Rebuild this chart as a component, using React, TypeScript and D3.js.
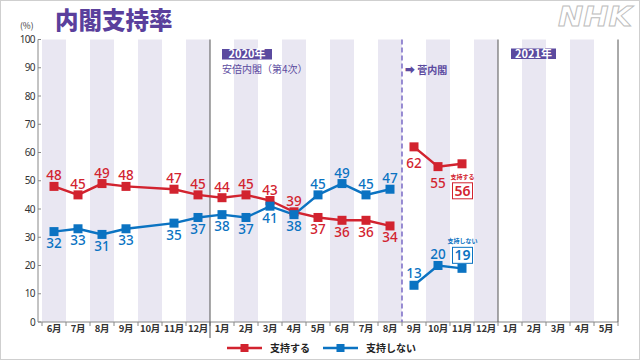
import React from "react";
import * as d3 from "d3";

// ---- data ----
const months = ["6月","7月","8月","9月","10月","11月","12月","1月","2月","3月","4月","5月","6月","7月","8月","9月","10月","11月","12月","1月","2月","3月","4月","5月"];
// cabinet: 0 = 安倍内閣, 1 = 菅内閣, -1 = none
const cabinet = [0,0,0,0,0,0,0,0,0,0,0,0,0,0,0,1,1,1,-1,-1,-1,-1,-1,-1];
const support: (number | null)[] = [48,45,49,48,null,47,45,44,45,43,39,37,36,36,34,62,55,56,null,null,null,null,null,null];
const oppose: (number | null)[] = [32,33,31,33,null,35,37,38,37,41,38,45,49,45,47,13,20,19,null,null,null,null,null,null];
const yTicks = [0,10,20,30,40,50,60,70,80,90,100];
const seriesNames = ["支持する", "支持しない"];

const W = 640, H = 360;
const RED = "#d2232f";
const BLUE = "#0b73c2";
const PURPLE = "#5a3f9c";
const BAND = "#e9e7f2";
const JP = "'Noto Sans CJK JP', 'Noto Sans', sans-serif";
const NUM = "'Noto Sans', 'DejaVu Sans', sans-serif";

const x = d3.scaleBand<number>().domain(d3.range(months.length)).range([42, 618]).padding(0);
const y = d3.scaleLinear().domain([0, 100]).range([322, 39.5]);
const cx = (i: number) => (x(i) as number) + x.bandwidth() / 2;

type P = { i: number; v: number };

function segments(vals: (number | null)[]): P[][] {
  const groups = d3.groups(
    vals.map((v, i) => ({ i, v })).filter((d) => d.v != null && cabinet[d.i] >= 0) as P[],
    (d) => cabinet[d.i]
  );
  return groups.map((g) => g[1]);
}

const line = d3.line<P>().x((d) => cx(d.i)).y((d) => y(d.v));

export default function App() {
  const lastIdx = d3.max(support.map((v, i) => (v != null ? i : -1))) as number;
  const series = [
    { vals: support, color: RED, other: oppose },
    { vals: oppose, color: BLUE, other: support },
  ];
  const boundary = (k: number) => x(k) as number;
  const yearLines = [7, 19];
  const cabinetChange = cabinet.indexOf(1);

  return (
    <div style={{ position: "fixed", left: 0, top: 0, width: W, height: H, background: "#fff" }}>
      <svg width={W} height={H} style={{ display: "block" }}>
        <rect x={0.5} y={0.5} width={W - 1} height={H - 1} fill="#fff" stroke="#cfcfcf" />
        {/* bands */}
        {months.map((m, i) =>
          i % 2 === 0 ? (
            <rect key={i} x={x(i)} y={y(100)} width={x.bandwidth()} height={y(0) - y(100)} fill={BAND} />
          ) : null
        )}
        {/* y axis */}
        <line x1={38} x2={38} y1={y(100)} y2={y(0)} stroke="#888" strokeWidth={1} />
        {yTicks.map((t) => (
          <g key={t}>
            <line x1={38} x2={41} y1={y(t)} y2={y(t)} stroke="#888" />
            <text x={35} y={y(t) + 3.5} textAnchor="end" fontSize={10} fontFamily={NUM} fill="#333" letterSpacing={-0.6}>
              {t}
            </text>
          </g>
        ))}
        <text x={20} y={29} fontSize={8.5} fontFamily={JP} fill="#333">(%)</text>
        {/* x axis */}
        <line x1={38} x2={618} y1={y(0)} y2={y(0)} stroke="#888" />
        {d3.range(months.length + 1).map((k) => (
          <line key={k} x1={42 + k * x.bandwidth()} x2={42 + k * x.bandwidth()} y1={y(0)} y2={y(0) + 4} stroke="#888" />
        ))}
        {months.map((m, i) => (
          <text key={i} x={cx(i)} y={332} textAnchor="middle" fontSize={9.5} fontWeight={700} fontFamily={JP} fill="#333" letterSpacing={-0.3}>
            {m}
          </text>
        ))}
        {/* vertical separators */}
        <line x1={boundary(yearLines[0])} x2={boundary(yearLines[0])} y1={y(100)} y2={338} stroke="#555" />
        <line x1={boundary(yearLines[1])} x2={boundary(yearLines[1])} y1={y(100)} y2={y(0)} stroke="#555" />
        <line x1={618} x2={618} y1={y(100)} y2={y(0)} stroke="#555" />
        <line x1={boundary(cabinetChange)} x2={boundary(cabinetChange)} y1={y(100)} y2={y(0)} stroke="#7a6bc6" strokeWidth={1.5} strokeDasharray="5,3" />
        {/* period labels */}
        <rect x={boundary(yearLines[0]) + 12} y={49} width={50} height={10.5} fill="#5b4a9f" />
        <text x={boundary(yearLines[0]) + 37} y={58.2} textAnchor="middle" fontSize={11} fontWeight={700} fontFamily={JP} fill="#fff">2020年</text>
        <text x={boundary(yearLines[0]) + 12} y={73} fontSize={10} fontFamily={JP} fill="#5b4a9f">安倍内閣（第4次）</text>
        <text x={boundary(cabinetChange) + 3} y={74} fontSize={10} fontWeight={700} fontFamily={JP} fill="#5b4a9f">➡ 菅内閣</text>
        <rect x={boundary(yearLines[1]) + 13} y={48.5} width={45} height={10.5} fill="#5b4a9f" />
        <text x={boundary(yearLines[1]) + 35.5} y={57.7} textAnchor="middle" fontSize={11} fontWeight={700} fontFamily={JP} fill="#fff">2021年</text>
        {/* lines */}
        {series.map((s, si) =>
          segments(s.vals).map((seg, k) => (
            <path key={si + "-" + k} d={line(seg) as string} fill="none" stroke={s.color} strokeWidth={2.4} />
          ))
        )}
        {series.map((s, si) =>
          s.vals.map((v, i) =>
            v == null ? null : (
              <rect key={si + "m" + i} x={cx(i) - 4.5} y={y(v) - 4.5} width={9} height={9} fill={s.color} />
            )
          )
        )}
        {/* value labels */}
        {series.map((s, si) =>
          s.vals.map((v, i) => {
            if (v == null || i === lastIdx) return null;
            const o = s.other[i] as number;
            const suga = cabinet[i] === 1;
            let above = v > o;
            if (suga) above = !above;
            const dy = above ? (suga ? -7 : -6) : suga ? 21 : 16.5;
            return (
              <text key={si + "l" + i} x={cx(i)} y={y(v) + dy} textAnchor="middle" fontSize={13.5} fontWeight={500} fontFamily={NUM} fill={s.color}>
                {v}
              </text>
            );
          })
        )}
        {/* boxed latest values */}
        {series.map((s, si) => {
          const v = s.vals[lastIdx] as number;
          const bx = cx(lastIdx) - 9.5;
          const by = si === 0 ? y(v) + 19 : y(v) - 21;
          return (
            <g key={"box" + si}>
              <text x={cx(lastIdx) + 0.5} y={by - 4} textAnchor="middle" fontSize={6} fontWeight={700} fontFamily={JP} fill={s.color}>
                {seriesNames[si]}
              </text>
              <rect x={bx} y={by} width={20} height={16} fill="#fff" stroke={s.color} strokeWidth={1} />
              <text x={cx(lastIdx) + 0.5} y={by + 13} textAnchor="middle" fontSize={14} fontWeight={600} fontFamily={NUM} fill={s.color}>
                {v}
              </text>
            </g>
          );
        })}
        {/* legend */}
        {series.map((s, si) => {
          const lx = si === 0 ? 227 : 323;
          const tw = 35;
          return (
            <g key={"lg" + si}>
              <line x1={lx} x2={lx + tw} y1={348} y2={348} stroke={s.color} strokeWidth={2.6} />
              <rect x={lx + tw / 2 - 4} y={344} width={8} height={8} fill={s.color} />
              <text x={lx + tw + 8} y={352} fontSize={10} fontWeight={700} fontFamily={JP} fill="#222">
                {seriesNames[si]}
              </text>
            </g>
          );
        })}
        {/* title */}
        <text x={55} y={29} fontSize={23.5} fontWeight={900} fontFamily={JP} fill={PURPLE}>内閣支持率</text>
        {/* NHK logo */}
        <text x={558} y={26} fontSize={26} fontWeight={700} fontStyle="italic" fontFamily="'DejaVu Sans', sans-serif"
          fill="#fff" stroke="#bdbdbd" strokeWidth={0.9} textLength={74} lengthAdjust="spacingAndGlyphs">NHK</text>
      </svg>
    </div>
  );
}
